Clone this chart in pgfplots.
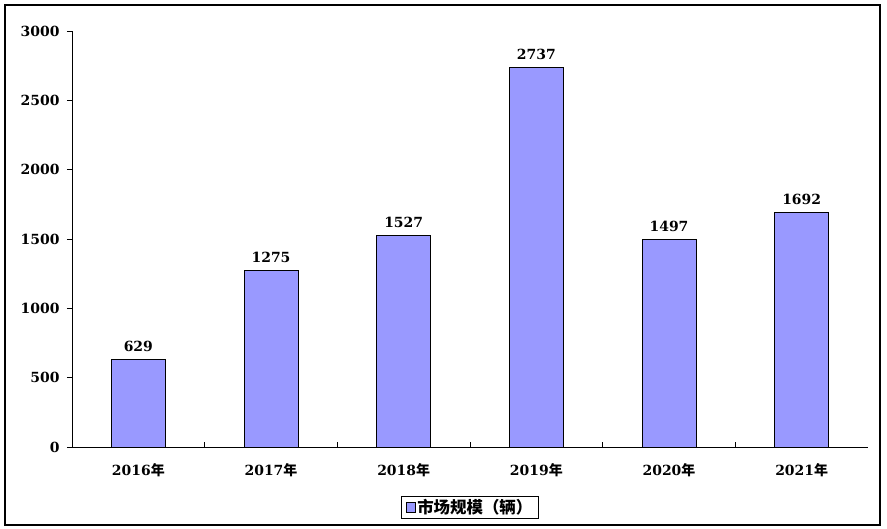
\documentclass[border=0pt]{standalone}
\usepackage{pgfplots}
\pgfplotsset{compat=1.18}
\usepackage{fontspec}
\setmainfont{DejaVu Serif}
\newfontfamily\cjk{Noto Sans CJK SC}
\definecolor{barblue}{HTML}{9999FF}

\begin{document}
\begin{tikzpicture}
\path[use as bounding box] (0,0) rectangle (887bp,529bp);
\draw[line width=1.2bp] (5bp,4bp) rectangle (880bp,524bp);
\begin{axis}[
  at={(72bp,82bp)}, anchor=south west,
  scale only axis, width=796bp, height=416bp,
  ybar, bar width=54bp,
  xmin=-0.5, xmax=5.5, ymin=0, ymax=3000,
  axis x line*=bottom, axis y line*=left,
  axis line style={-, line width=0.8bp},
  /pgf/number format/1000 sep={},
  /pgf/number format/assume math mode=true,
  xtick={0.5,1.5,2.5,3.5,4.5},
  xticklabels={},
  xtick align=inside,
  major tick length=5bp,
  extra x ticks={0,1,2,3,4,5},
  extra x tick labels={2016{\cjk 年},2017{\cjk 年},2018{\cjk 年},2019{\cjk 年},2020{\cjk 年},2021{\cjk 年}},
  extra x tick style={major tick length=0pt},
  xticklabel style={yshift=-13bp},
  ytick={0,500,1000,1500,2000,2500,3000},
  ytick align=outside,
  yticklabel style={xshift=-4bp},
  tick style={black, line width=0.8bp},
  ticklabel style={font=\bfseries\fontsize{14}{16}\selectfont},
  nodes near coords,
  nodes near coords align=vertical,
  nodes near coords style={font=\bfseries\fontsize{14}{16}\selectfont, black, yshift=4bp},
  legend style={at={(axis description cs:0.5,-0.1454)}, anchor=center, draw=black, line width=0.8bp,
    font=\bfseries\fontsize{16.5}{18}\selectfont, inner xsep=4bp, inner ysep=1bp},
  legend image code/.code={\draw[#1, draw=black, line width=0.6bp] (0bp,-5bp) rectangle (9bp,5bp);},
]
\addplot[fill=barblue, draw=black, line width=0.8bp] coordinates {(0,629) (1,1275) (2,1527) (3,2737) (4,1497) (5,1692)};
\legend{{\cjk 市场规模（辆）}}
\end{axis}
\end{tikzpicture}
\end{document}
